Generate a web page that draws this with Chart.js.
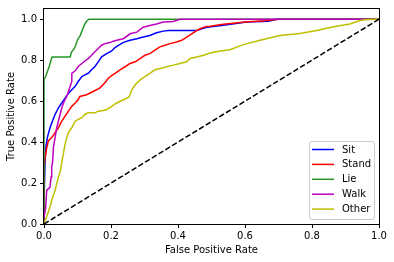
<!DOCTYPE html>
<html>
<head>
<meta charset="utf-8">
<script src="https://cdn.jsdelivr.net/npm/chart.js@4.4.1/dist/chart.umd.min.js"></script>
<style>
html,body{margin:0;padding:0;background:#fff;}
canvas{display:block;}
</style>
</head>
<body>
<canvas id="c" width="394" height="262"></canvas>
<script>
// ---- data ----
const seriesNames = ["Sit", "Stand", "Lie", "Walk", "Other"];
const seriesColors = ["#0000ff", "#ff0000", "#269626", "#bf00bf", "#bfbf00"];

const fprSit = [0, 0, 0.003, 0.006, 0.010, 0.018, 0.025, 0.033, 0.043, 0.053, 0.063, 0.073, 0.083, 0.093, 0.102, 0.113, 0.122, 0.132, 0.142, 0.152, 0.162, 0.172, 0.187, 0.202, 0.212, 0.222, 0.237, 0.257, 0.277, 0.296, 0.316, 0.336, 0.356, 0.371, 0.456, 0.471, 0.486, 0.530, 0.605, 0.670, 0.695, 1.0];
const tprSit = [0, 0.10, 0.30, 0.38, 0.422, 0.47, 0.502, 0.535, 0.567, 0.591, 0.615, 0.639, 0.656, 0.672, 0.696, 0.720, 0.728, 0.736, 0.753, 0.769, 0.792, 0.816, 0.832, 0.845, 0.862, 0.872, 0.887, 0.897, 0.905, 0.913, 0.921, 0.934, 0.942, 0.945, 0.945, 0.953, 0.961, 0.970, 0.986, 0.990, 1.0, 1.0];

const fprStand = [0, 0, 0.003, 0.008, 0.013, 0.023, 0.033, 0.043, 0.053, 0.063, 0.073, 0.083, 0.093, 0.102, 0.107, 0.127, 0.147, 0.167, 0.182, 0.192, 0.202, 0.212, 0.227, 0.242, 0.257, 0.272, 0.287, 0.301, 0.316, 0.331, 0.346, 0.361, 0.376, 0.396, 0.411, 0.426, 0.441, 0.456, 0.471, 0.486, 0.496, 0.535, 0.600, 0.660, 0.700, 1.0];
const tprStand = [0, 0.27, 0.32, 0.37, 0.406, 0.422, 0.446, 0.47, 0.502, 0.527, 0.551, 0.575, 0.591, 0.607, 0.623, 0.631, 0.647, 0.665, 0.690, 0.712, 0.725, 0.736, 0.753, 0.768, 0.784, 0.792, 0.808, 0.824, 0.832, 0.849, 0.865, 0.873, 0.881, 0.889, 0.897, 0.913, 0.929, 0.945, 0.957, 0.965, 0.966, 0.976, 0.986, 0.993, 1.0, 1.0];

const fprLie = [0, 0, 0.005, 0.010, 0.015, 0.020, 0.024, 0.078, 0.082, 0.090, 0.095, 0.100, 0.108, 0.115, 0.120, 0.127, 0.134, 1.0];
const tprLie = [0, 0.705, 0.72, 0.745, 0.765, 0.795, 0.816, 0.816, 0.84, 0.855, 0.874, 0.90, 0.92, 0.95, 0.97, 0.99, 1.0, 1.0];

const fprWalk = [0, 0, 0.005, 0.008, 0.018, 0.021, 0.023, 0.026, 0.028, 0.033, 0.038, 0.043, 0.048, 0.053, 0.058, 0.063, 0.068, 0.073, 0.083, 0.083, 0.093, 0.102, 0.113, 0.122, 0.132, 0.142, 0.152, 0.162, 0.172, 0.182, 0.197, 0.207, 0.217, 0.237, 0.257, 0.277, 0.296, 0.316, 0.336, 0.356, 0.386, 0.406, 1.0];
const tprWalk = [0, 0.03, 0.08, 0.164, 0.18, 0.229, 0.277, 0.309, 0.373, 0.422, 0.47, 0.502, 0.535, 0.567, 0.590, 0.608, 0.623, 0.647, 0.696, 0.736, 0.748, 0.769, 0.784, 0.796, 0.808, 0.824, 0.841, 0.857, 0.873, 0.881, 0.886, 0.893, 0.897, 0.905, 0.929, 0.937, 0.961, 0.969, 0.977, 0.986, 0.989, 1.0, 1.0];

const fprOther = [0, 0.003, 0.008, 0.013, 0.018, 0.023, 0.028, 0.033, 0.038, 0.043, 0.048, 0.053, 0.058, 0.063, 0.068, 0.073, 0.083, 0.088, 0.093, 0.102, 0.113, 0.122, 0.132, 0.152, 0.162, 0.177, 0.187, 0.202, 0.217, 0.237, 0.252, 0.257, 0.262, 0.272, 0.287, 0.301, 0.316, 0.331, 0.351, 0.366, 0.386, 0.406, 0.426, 0.436, 0.456, 0.476, 0.496, 0.525, 0.555, 0.595, 0.645, 0.704, 0.764, 0.814, 0.864, 0.913, 0.943, 0.958, 0.983, 1.0];
const tprOther = [0, 0.015, 0.035, 0.06, 0.084, 0.116, 0.14, 0.164, 0.197, 0.229, 0.253, 0.30, 0.345, 0.39, 0.422, 0.446, 0.47, 0.486, 0.502, 0.511, 0.519, 0.535, 0.543, 0.543, 0.551, 0.554, 0.559, 0.575, 0.591, 0.607, 0.618, 0.631, 0.655, 0.68, 0.704, 0.72, 0.736, 0.753, 0.761, 0.768, 0.776, 0.784, 0.792, 0.808, 0.816, 0.824, 0.835, 0.845, 0.851, 0.876, 0.897, 0.921, 0.930, 0.945, 0.963, 0.977, 0.994, 0.998, 1.0, 1.0];

const diagX = [0, 1];
const diagY = [0, 1];

const xTicks = [0, 0.2, 0.4, 0.6, 0.8, 1.0];
const yTicks = [0, 0.2, 0.4, 0.6, 0.8, 1.0];
const xLabel = "False Positive Rate";
const yLabel = "True Positive Rate";

// ---- build chart ----
const FONT = "'DejaVu Sans', sans-serif";
function pts(xs, ys){ return xs.map((x,i)=>({x:x, y:ys[i]})); }
const seriesX = [fprSit, fprStand, fprLie, fprWalk, fprOther];
const seriesY = [tprSit, tprStand, tprLie, tprWalk, tprOther];

const datasets = seriesNames.map((name,i)=>({
  label: name,
  data: pts(seriesX[i], seriesY[i]),
  borderColor: seriesColors[i],
  backgroundColor: seriesColors[i],
  borderWidth: 1.5,
  pointRadius: 0,
  tension: 0,
  fill: false,
  order: 10 - i
}));
datasets.push({
  label: "diag",
  data: pts(diagX, diagY),
  borderColor: "#000000",
  borderWidth: 1.5,
  borderDash: [5.5, 2.4],
  pointRadius: 0,
  fill: false,
  order: 0
});

const framePlugin = {
  id: 'frame',
  afterDatasetsDraw(chart){
    const a = chart.chartArea, ctx = chart.ctx;
    ctx.save();
    ctx.strokeStyle = '#000';
    ctx.lineWidth = 1;
    ctx.strokeRect(Math.round(a.left)-0.5, Math.round(a.top)-0.5, Math.round(a.right-a.left)+1, Math.round(a.bottom-a.top)+1);
    ctx.restore();
  }
};

const legendPlugin = {
  id: 'innerLegend',
  afterDraw(chart){
    const ctx = chart.ctx;
    const x0 = 309.5, y0 = 141.5, w = 65, h = 78, r = 2.5;
    ctx.save();
    ctx.beginPath();
    ctx.moveTo(x0+r, y0);
    ctx.lineTo(x0+w-r, y0); ctx.arcTo(x0+w, y0, x0+w, y0+r, r);
    ctx.lineTo(x0+w, y0+h-r); ctx.arcTo(x0+w, y0+h, x0+w-r, y0+h, r);
    ctx.lineTo(x0+r, y0+h); ctx.arcTo(x0, y0+h, x0, y0+h-r, r);
    ctx.lineTo(x0, y0+r); ctx.arcTo(x0, y0, x0+r, y0, r);
    ctx.closePath();
    ctx.fillStyle = 'rgba(255,255,255,0.8)';
    ctx.fill();
    ctx.strokeStyle = '#cccccc';
    ctx.lineWidth = 1;
    ctx.stroke();
    ctx.font = "10px " + FONT;
    ctx.textBaseline = 'middle';
    ctx.textAlign = 'left';
    seriesNames.forEach((name,i)=>{
      const yy = 149.5 + i*14.9;
      ctx.strokeStyle = seriesColors[i];
      ctx.lineWidth = 1.5;
      ctx.beginPath();
      ctx.moveTo(312, yy); ctx.lineTo(334, yy);
      ctx.stroke();
      ctx.fillStyle = '#000';
      ctx.fillText(name, 342, yy + 0.5);
    });
    ctx.restore();
  }
};

new Chart(document.getElementById('c'), {
  type: 'line',
  data: { datasets: datasets },
  options: {
    responsive: false,
    animation: false,
    devicePixelRatio: 1,
    layout: { padding: { top: 7, right: 15, left: 0, bottom: 0 } },
    plugins: { legend: { display: false }, tooltip: { enabled: false } },
    scales: {
      x: {
        type: 'linear', min: 0, max: 1,
        afterBuildTicks: s => { s.ticks = xTicks.map(v=>({value:v})); },
        afterFit: s => { s.height = 38; },
        grid: { drawOnChartArea: false, drawTicks: true, tickLength: 4, color: '#000', tickWidth: 1 },
        border: { display: false },
        ticks: { color: '#000', padding: 2, maxRotation: 0, autoSkip: false, font: { family: FONT, size: 10 }, callback: v => Number(v).toFixed(1) },
        title: { display: true, text: xLabel, color: '#000', font: { family: FONT, size: 10 }, padding: { top: 0, bottom: 6 } }
      },
      y: {
        type: 'linear', min: 0, max: 1.05,
        afterBuildTicks: s => { s.ticks = yTicks.map(v=>({value:v})); },
        afterFit: s => { s.width = 44; },
        grid: { drawOnChartArea: false, drawTicks: true, tickLength: 4, color: '#000', tickWidth: 1 },
        border: { display: false },
        ticks: { color: '#000', padding: 3, autoSkip: false, font: { family: FONT, size: 10 }, callback: v => Number(v).toFixed(1) },
        title: { display: true, text: yLabel, color: '#000', font: { family: FONT, size: 10 }, padding: { top: 5, bottom: 0 } }
      }
    }
  },
  plugins: [framePlugin, legendPlugin]
});
</script>
</body>
</html>
